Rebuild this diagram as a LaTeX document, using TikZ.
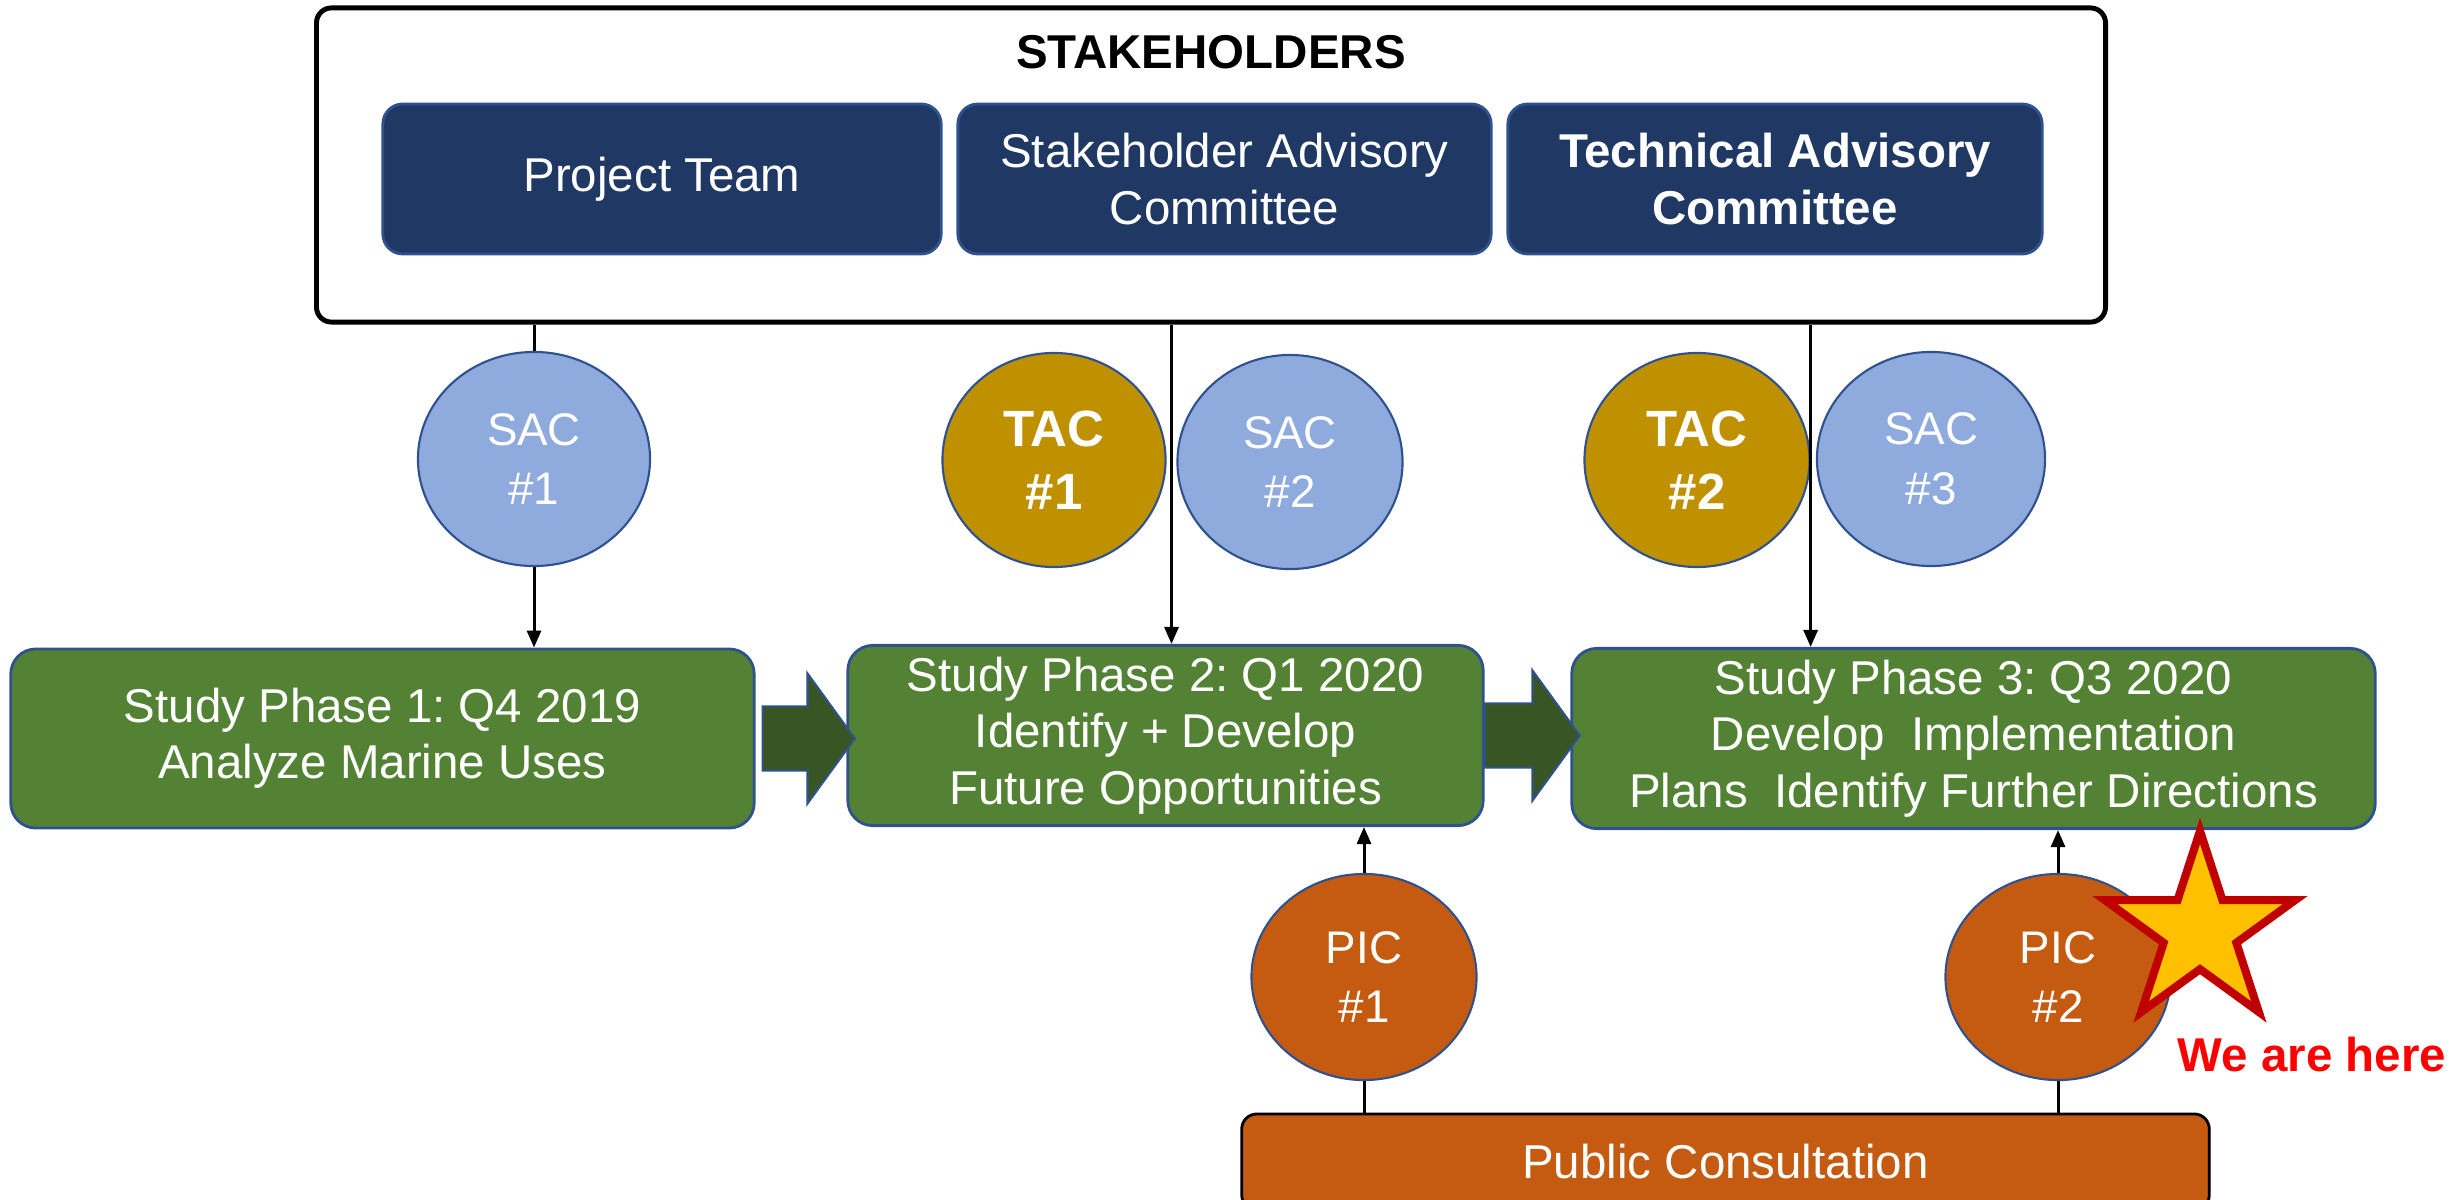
\documentclass[tikz,border=0pt]{standalone}
\usepackage{fontspec}
\setmainfont{Liberation Sans}
\usepackage{tikz}
\usetikzlibrary{shapes.geometric,shapes.arrows,arrows.meta,calc}
\definecolor{navy}{HTML}{203864}
\definecolor{outl}{HTML}{2F528F}
\definecolor{skyblue}{HTML}{8FAADC}
\definecolor{gold}{HTML}{BF9000}
\definecolor{leaf}{HTML}{548235}
\definecolor{darkleaf}{HTML}{375623}
\definecolor{rust}{HTML}{C55A11}
\definecolor{amber}{HTML}{FFC000}
\definecolor{crimson}{HTML}{C00000}
\newcommand{\txt}{\fontsize{13.5}{16}\selectfont}
\frenchspacing
\tikzset{
  stakebox/.style={rectangle, rounded corners=0.2cm, fill=navy, draw=outl, line width=0.8pt,
    text=white, minimum height=1.5cm, align=center, font=\txt},
  phasebox/.style={rectangle, rounded corners=0.25cm, fill=leaf, draw=outl, line width=0.8pt,
    text=white, minimum height=1.79cm, align=center, font=\txt},
  meet/.style={ellipse, draw=outl, line width=0.6pt, inner sep=0pt, minimum width=2.25cm,
    minimum height=2.14cm, text=white, align=center},
  sac/.style={meet, fill=skyblue, font=\fontsize{13}{17}\selectfont},
  tac/.style={meet, fill=gold, font=\bfseries\fontsize{14.5}{18}\selectfont},
  pic/.style={meet, fill=rust, minimum height=2.06cm, font=\fontsize{13}{17}\selectfont},
  bigarrow/.style={single arrow, fill=darkleaf, draw=outl, line width=0.6pt, inner xsep=0pt,
    inner ysep=0.31cm, minimum height=0.92cm, single arrow head extend=0.33cm,
    single arrow tip angle=108, anchor=tail}
}

\begin{document}
\begin{tikzpicture}[x=0.01cm, y=-0.01cm, line width=0.85pt,
  >={Triangle[length=0.17cm,width=0.14cm]}]
	\useasboundingbox (0,0) rectangle (2463,1200);
	\clip (0,0) rectangle (2463,1200);
	% stakeholders
	\node[draw, line width=1.4pt, rounded corners=0.15cm, minimum width=17.88cm, minimum height=3.14cm] (stake) at (1211,165) {};
	\node[font=\bfseries\txt] (title) at (1211,52) {STAKEHOLDERS};
	\node[stakebox, minimum width=5.58cm] (team) at (662,179) {Project Team};
	\node[stakebox, minimum width=5.33cm] (sacbox) at (1224.5,179) {Stakeholder Advisory\\Committee};
	\node[stakebox, minimum width=5.34cm, font=\bfseries\txt] (tacbox) at (1775,179) {Technical Advisory\\Committee};
	%
	\node[sac, minimum width=2.32cm] (sac1) at (534,459) {SAC\\\#1};
	\node[tac, minimum width=2.23cm] (tac1) at (1054,460) {TAC\\\#1};
	\node[sac] (sac2) at (1290,462) {SAC\\\#2};
	\node[tac] (tac2) at (1697,460) {TAC\\\#2};
	\node[sac, minimum width=2.28cm] (sac3) at (1931,459) {SAC\\\#3};
	% phases
	\node[phasebox, minimum width=7.43cm] (ph1) at (382.5,738.5) {Study Phase 1: Q4 2019\\Analyze Marine Uses};
	\node[phasebox, minimum width=6.35cm] (ph2) at (1165.5,735.5) {Study Phase 2: Q1 2020\\Identify + Develop\\Future Opportunities};
	\node[phasebox, minimum width=8.03cm] (ph3) at (1973.5,738.5) {Study Phase 3: Q3 2020\\Develop~~Implementation\\Plans~~Identify Further Directions};
	% public consultation
	\node[rectangle, rounded corners=0.15cm, fill=rust, draw, line width=0.8pt, minimum width=9.67cm, minimum height=0.96cm, text=white, font=\txt] (pubc) at (1725.5,1162) {Public Consultation};
	\node[pic] (pic1) at (1364,977) {PIC\\\#1};
	\node[pic] (pic2) at (2058,977) {PIC\\\#2};
	%
	\coordinate (gap2) at ($(tac1.east)!0.5!(sac2.west)$);
	\draw (stake.south -| sac1.north) -- (sac1.north);
	\draw[->] (sac1.south) -- (sac1.south |- ph1.north);
	\draw[->] (gap2 |- stake.south) -- (gap2 |- ph2.north);
	\draw[->] (stake.south -| tac2.east) -- (tac2.east |- ph3.north);
	\draw[->] (pic1.north) -- (pic1.north |- ph2.south);
	\draw[->] (pic2.north) -- (pic2.north |- ph3.south);
	\draw (pic1.south) -- (pic1.south |- pubc.north);
	\draw (pic2.south) -- (pic2.south |- pubc.north);
	%
	\node[bigarrow] (a1) at ([xshift=0.06cm]ph1.east) {};
	\node[bigarrow, minimum height=0.95cm] (a2) at ([xshift=-0.01cm]ph2.east) {};
	% we are here
	\node[star, star points=5, star point ratio=2.62, minimum size=2.0cm, inner sep=0pt, fill=amber, draw=crimson, line width=2.3pt] (star) at (2200,931) {};
	\node[text=red, font=\bfseries\txt] (here) at (2312,1055) {We are here};
\end{tikzpicture}
\end{document}
